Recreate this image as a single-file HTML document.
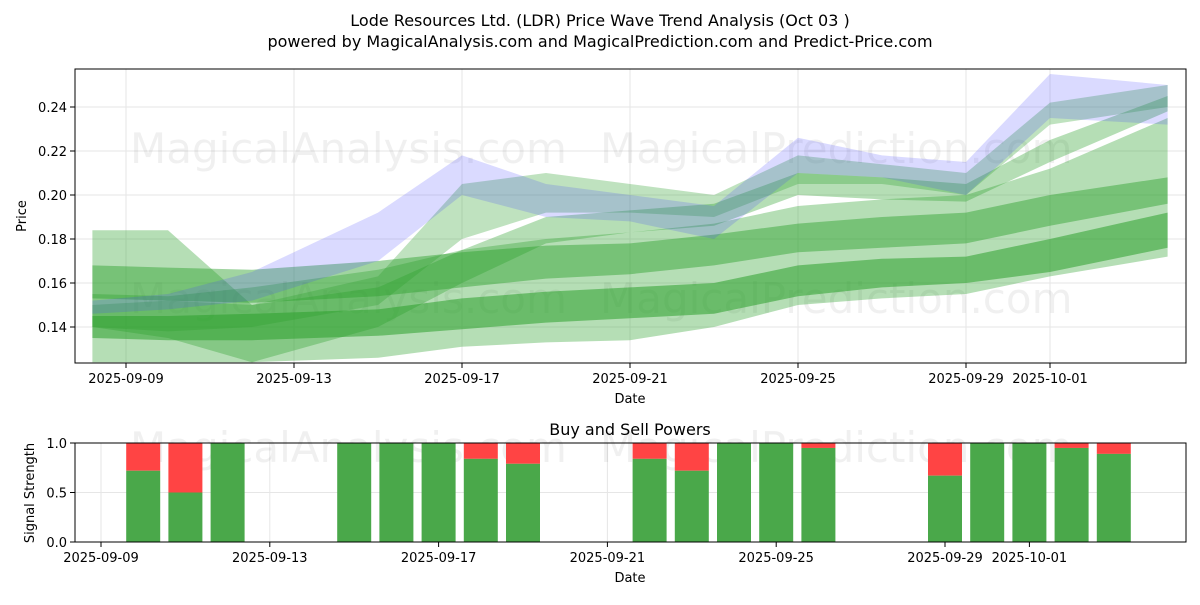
<!DOCTYPE html>
<html><head><meta charset="utf-8">
<style>
body{margin:0;background:#fff;font-family:"Liberation Sans","DejaVu Sans",sans-serif;}
svg text{font-family:"DejaVu Sans","Liberation Sans",sans-serif;}
</style></head>
<body>
<svg id="chart" width="1200" height="600" xmlns="http://www.w3.org/2000/svg">
<rect width="1200" height="600" fill="#fff"/>
<text x="600" y="26" text-anchor="middle" font-size="16">Lode Resources Ltd. (LDR) Price Wave Trend Analysis (Oct 03 )</text>
<text x="600" y="47" text-anchor="middle" font-size="16">powered by MagicalAnalysis.com and MagicalPrediction.com and Predict-Price.com</text>
<g id="topg"></g>
<g id="botg"></g>
</svg>
<script>
// ---- data ----
const dayTicks = ["2025-09-09","2025-09-13","2025-09-17","2025-09-21","2025-09-25","2025-09-29","2025-10-01"];
const dayTickIdx = [0,4,8,12,16,20,22];
const priceTicks = [0.14,0.16,0.18,0.20,0.22,0.24];
const bandDays = [-0.8,1,3,6,8,10,12,14,16,18,20,22,24.8];
const g1Upper = [0.145,0.145,0.146,0.148,0.153,0.156,0.158,0.160,0.168,0.171,0.172,0.180,0.192];
const g1Lower = [0.135,0.134,0.134,0.136,0.139,0.142,0.144,0.146,0.154,0.158,0.160,0.165,0.176];
const g2Upper = [0.168,0.167,0.166,0.170,0.174,0.177,0.178,0.182,0.187,0.190,0.192,0.200,0.208];
const g2Lower = [0.153,0.152,0.151,0.154,0.158,0.162,0.164,0.168,0.174,0.176,0.178,0.186,0.196];
const g3Upper = [0.155,0.154,0.158,0.166,0.175,0.180,0.183,0.187,0.195,0.198,0.200,0.212,0.235];
const g3Lower = [0.124,0.124,0.124,0.126,0.131,0.133,0.134,0.140,0.150,0.153,0.155,0.163,0.172];
const g4Upper = [0.184,0.184,0.150,0.158,0.175,0.190,0.193,0.196,0.210,0.208,0.205,0.225,0.245];
const g4Lower = [0.140,0.135,0.124,0.140,0.160,0.178,0.183,0.186,0.200,0.198,0.197,0.215,0.238];
const g5Upper = [0.150,0.152,0.150,0.163,0.205,0.210,0.205,0.200,0.218,0.214,0.210,0.242,0.250];
const g5Lower = [0.140,0.138,0.140,0.150,0.180,0.192,0.192,0.190,0.205,0.205,0.200,0.232,0.240];
const bUpper = [0.152,0.155,0.165,0.192,0.218,0.205,0.200,0.195,0.226,0.218,0.215,0.255,0.250];
const bLower = [0.146,0.148,0.152,0.170,0.200,0.190,0.188,0.180,0.210,0.208,0.200,0.235,0.232];
const barDays = [1,2,3,6,7,8,9,10,13,14,15,16,17,20,21,22,23,24];
const buyPower = [0.72,0.5,1,1,1,1,0.84,0.79,0.84,0.72,1,1,0.95,0.67,1,1,0.95,0.89];
const powerTicks = [0,0.5,1.0];

const NS="http://www.w3.org/2000/svg";
function mk(parent,tag,attrs,name,text){const e=document.createElementNS(NS,tag);for(const k in attrs)e.setAttribute(k,attrs[k]);


if(text!==undefined)e.textContent=text;parent.appendChild(e);return e;}
const topG=document.getElementById('topg'),botG=document.getElementById('botg');
const X=d=>126+d*42, Y=v=>327-(v-0.14)/0.02*44;
const L=75,R=1186,T=69,B=363;
for(let i=0;i<dayTicks.length;i++){const x=X(dayTickIdx[i]);
mk(topG,'line',{x1:x,x2:x,y1:T,y2:B,stroke:'#e6e6e6'},'x-grid');
mk(topG,'line',{x1:x,x2:x,y1:B,y2:B+5,stroke:'#000'},'x-tick');
mk(topG,'text',{x:x,y:B+20,'text-anchor':'middle','font-size':13},'x-tick-label',dayTicks[i]);}
for(const v of priceTicks){const y=Y(v);
mk(topG,'line',{x1:L,x2:R,y1:y,y2:y,stroke:'#e6e6e6'},'y-grid');
mk(topG,'line',{x1:L-5,x2:L,y1:y,y2:y,stroke:'#000'},'y-tick');
mk(topG,'text',{x:L-8,y:y+5,'text-anchor':'end','font-size':13},'y-tick-label',v.toFixed(2));}
const wm=[[130,163],[600,163],[130,313],[600,313]];
for(const [x,y] of wm){mk(topG,'text',{x:x,y:y,'font-size':42,fill:'#000','fill-opacity':0.06},'watermark',(x<300?'MagicalAnalysis.com':'MagicalPrediction.com'));}
const clip=mk(topG,'clipPath',{id:'c1'},'clip');mk(clip,'rect',{x:L,y:T,width:R-L,height:B-T},'clip-rect');
const bandsG=mk(topG,'g',{'clip-path':'url(#c1)'},'bands');
function band(up,lo,fill,op,name){let p=bandDays.map((d,i)=>X(d)+','+Y(up[i]));
for(let i=bandDays.length-1;i>=0;i--)p.push(X(bandDays[i])+','+Y(lo[i]));
mk(bandsG,'polygon',{points:p.join(' '),fill:fill,'fill-opacity':op},name);}
band(g3Upper,g3Lower,'#2ca02c',0.35,'green-band-wide');
band(g2Upper,g2Lower,'#2ca02c',0.45,'green-band-mid');
band(g1Upper,g1Lower,'#2ca02c',0.55,'green-band-low');
band(g4Upper,g4Lower,'#2ca02c',0.35,'green-band-upper');
band(g5Upper,g5Lower,'#2ca02c',0.3,'green-band-price');
band(bUpper,bLower,'#4444ff',0.2,'blue-band');
mk(topG,'rect',{x:L,y:T,width:R-L,height:B-T,fill:'none',stroke:'#000'},'top-axes-frame');
mk(topG,'text',{x:630,y:403,'text-anchor':'middle','font-size':13},'x-axis-title','Date');
mk(topG,'text',{x:26,y:216,'text-anchor':'middle','font-size':13,transform:'rotate(-90 26 216)'},'y-axis-title','Price');
// bottom
const X2=d=>101+d*42.2, Y2=v=>542-v*99;
const L2=75,R2=1186,T2=443,B2=542;
mk(botG,'text',{x:630,y:435,'text-anchor':'middle','font-size':16},'bottom-title','Buy and Sell Powers');
for(let i=0;i<dayTicks.length;i++){const x=X2(dayTickIdx[i]);
mk(botG,'line',{x1:x,x2:x,y1:T2,y2:B2,stroke:'#e6e6e6'},'x-grid');
mk(botG,'line',{x1:x,x2:x,y1:B2,y2:B2+5,stroke:'#000'},'x-tick');
mk(botG,'text',{x:x,y:B2+20,'text-anchor':'middle','font-size':13},'x-tick-label',dayTicks[i]);}
for(const v of powerTicks){const y=Y2(v);
mk(botG,'line',{x1:L2,x2:R2,y1:y,y2:y,stroke:'#e6e6e6'},'y-grid');
mk(botG,'line',{x1:L2-5,x2:L2,y1:y,y2:y,stroke:'#000'},'y-tick');
mk(botG,'text',{x:L2-8,y:y+5,'text-anchor':'end','font-size':13},'y-tick-label',v.toFixed(1));}
mk(botG,'text',{x:130,y:462,'font-size':42,fill:'#000','fill-opacity':0.06},'watermark','MagicalAnalysis.com');
mk(botG,'text',{x:600,y:462,'font-size':42,fill:'#000','fill-opacity':0.06},'watermark','MagicalPrediction.com');
for(let i=0;i<barDays.length;i++){const x=X2(barDays[i])-17;
mk(botG,'rect',{x:x,y:Y2(1),width:34,height:Y2(buyPower[i])-Y2(1),fill:'#ff4444'},'sell-bar');
mk(botG,'rect',{x:x,y:Y2(buyPower[i]),width:34,height:Y2(0)-Y2(buyPower[i]),fill:'#4aa84a'},'buy-bar');}
mk(botG,'rect',{x:L2,y:T2,width:R2-L2,height:B2-T2,fill:'none',stroke:'#000'},'bottom-axes-frame');
mk(botG,'text',{x:630,y:582,'text-anchor':'middle','font-size':13},'x-axis-title','Date');
mk(botG,'text',{x:34,y:493,'text-anchor':'middle','font-size':13,transform:'rotate(-90 34 493)'},'y-axis-title','Signal Strength');
</script>
</body></html>
